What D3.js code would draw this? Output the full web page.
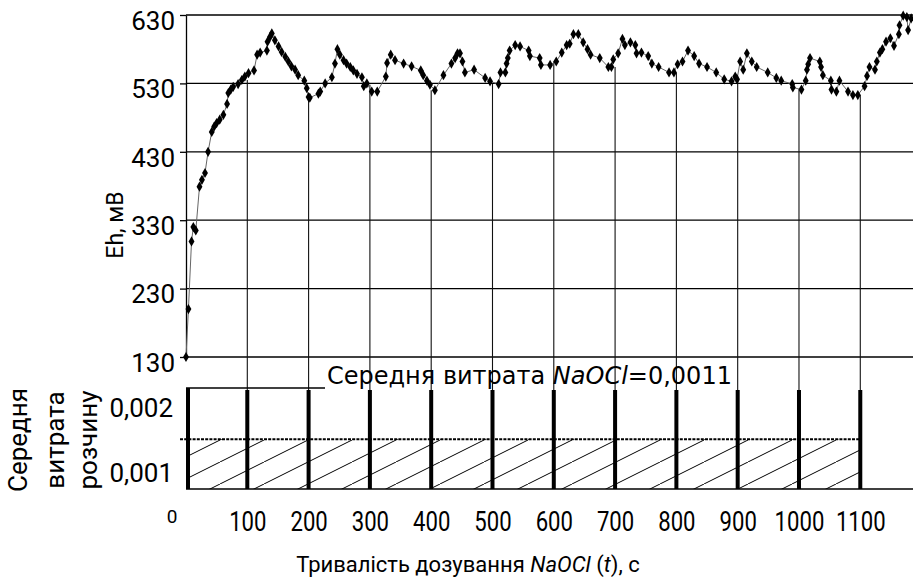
<!DOCTYPE html>
<html>
<head>
<meta charset="utf-8">
<script src="https://cdn.jsdelivr.net/npm/d3@7"></script>
<style>
  body { margin: 0; background: #fff; }
  svg { display: block; }
</style>
</head>
<body>
<svg id="chart"></svg>
<script>
// measured Eh curve (time, s / Eh, mV)
const times = [0, 4, 9, 12, 16, 22, 26, 31, 36, 42, 46, 50, 55, 61, 67, 69, 73, 77, 85, 91, 96, 102, 111,
  116, 121, 132, 133, 137, 140, 145, 151, 156, 162, 167, 172, 178, 183, 193, 197, 200, 202, 216, 219, 227,
  238, 243, 247, 251, 257, 262, 268, 273, 279, 287, 290, 295, 303, 312, 326, 328, 334, 341, 355, 368, 383,
  387, 393, 398, 406, 420, 433, 439, 443, 447, 451, 455, 470, 488, 496, 510, 513, 521, 523, 525, 528, 537,
  545, 559, 561, 577, 579, 594, 604, 613, 621, 626, 632, 640, 648, 655, 660, 675, 689, 694, 697, 705, 712,
  716, 725, 733, 735, 743, 754, 760, 771, 788, 796, 802, 810, 819, 829, 837, 850, 865, 878, 890, 896, 899,
  904, 909, 915, 923, 931, 949, 963, 971, 989, 990, 1004, 1011, 1013, 1015, 1018, 1034, 1036, 1039, 1052,
  1053, 1061, 1066, 1080, 1088, 1096, 1107, 1111, 1115, 1124, 1127, 1132, 1136, 1142, 1149, 1155, 1163,
  1164, 1170, 1176, 1178, 1183];
const eh = [130, 200, 299, 320, 315, 379, 389, 399, 430, 459, 467, 472, 477, 484, 500, 516, 521, 525, 529, 535, 540, 545, 549,
  572, 575, 578, 591, 598, 603, 593, 584, 576, 569, 562, 555, 550, 542, 534, 523, 510, 509, 515, 518, 530,
  539, 559, 580, 572, 564, 559, 554, 549, 544, 539, 526, 530, 518, 518, 540, 560, 572, 564, 559, 555, 549,
  542, 534, 528, 520, 542, 559, 567, 574, 574, 562, 546, 550, 538, 533, 529, 546, 546, 559, 567, 578, 586,
  584, 578, 570, 567, 557, 557, 562, 575, 586, 588, 602, 602, 590, 580, 572, 567, 554, 554, 565, 574, 595,
  586, 590, 586, 574, 575, 570, 559, 554, 546, 546, 558, 562, 578, 570, 559, 554, 546, 536, 533, 540, 536,
  562, 550, 574, 562, 554, 546, 538, 534, 529, 524, 521, 534, 550, 558, 567, 562, 554, 542, 534,
  521, 518, 534, 518, 513, 513, 526, 541, 554, 550, 562, 575, 580, 591, 596, 585, 602,
  615, 629, 627, 608, 625];

// dosing moments and the Eh level where each drop line starts
const dropTimes = [100, 200, 300, 400, 500, 600, 700, 800, 900, 1000, 1100];
const dropEh = [535, 510, 528, 520, 529, 562, 554, 546, 540, 521, 513];

const barTimes = [0, 100, 200, 300, 400, 500, 600, 700, 800, 900, 1000, 1100];
const ehTicks = [130, 230, 330, 430, 530, 630];
const timeTicks = [100, 200, 300, 400, 500, 600, 700, 800, 900, 1000, 1100];
const rateTicks = [0.001, 0.002];
const meanRate = 0.00152;   // height of the dashed level
const meanText = '=0,0011';

const width = 913;
const height = 582;
const left = 186;
const right = 913;
const topY = 15, topBottom = 357;
const botTop = 388, botBottom = 489;

const svg = d3.select('#chart').attr('width', width).attr('height', height);

const xScale = d3.scaleLinear().domain([0, 1186]).range([left, right]);
const yScale = d3.scaleLinear().domain([130, 630]).range([topBottom, topY]);
const rateScale = d3.scaleLinear().domain([0.00075, 0.00231]).range([botBottom, botTop]);

// hatch pattern
svg.append('defs')
  .append('pattern')
  .attr('id', 'hatch')
  .attr('patternUnits', 'userSpaceOnUse')
  .attr('width', 44)
  .attr('height', 22)
  .append('path')
  .attr('d', 'M0,22L44,0')
  .attr('stroke', '#000')
  .attr('stroke-width', 1);

// horizontal grid of the Eh panel
svg.append('g')
  .selectAll('line')
  .data(ehTicks)
  .enter()
  .append('line')
  .attr('x1', left)
  .attr('x2', right)
  .attr('y1', (d) => yScale(d))
  .attr('y2', (d) => yScale(d))
  .attr('stroke', '#000')
  .attr('stroke-width', 1.3);

// drop lines from curve to the dosing bars
svg.append('g')
  .selectAll('line')
  .data(dropTimes)
  .enter()
  .append('line')
  .attr('x1', (d) => xScale(d))
  .attr('x2', (d) => xScale(d))
  .attr('y1', (d, i) => yScale(dropEh[i]))
  .attr('y2', botTop + 2)
  .attr('stroke', '#111')
  .attr('stroke-width', 1.1);

// Eh axis
const yAxis = d3.axisLeft(yScale).tickValues(ehTicks).tickSize(6).tickSizeOuter(0).tickPadding(5);
const yG = svg.append('g')
  .attr('transform', 'translate(' + left + ',0)')
  .call(yAxis);
yG.select('.domain').attr('stroke', '#000').attr('stroke-width', 1.3);
yG.selectAll('.tick line').attr('stroke', '#000').attr('stroke-width', 1.3);
yG.selectAll('text')
  .attr('y', 6)
  .style('font-family', 'Roboto')
  .style('font-size', '26px')
  .attr('fill', '#000');

// curve
const line = d3.line()
  .x((d, i) => xScale(times[i]))
  .y((d) => yScale(d));
svg.append('path')
  .datum(eh)
  .attr('d', line)
  .attr('fill', 'none')
  .attr('stroke', '#666')
  .attr('stroke-width', 1);

const diamond = d3.symbol().type(d3.symbolDiamond).size(30);
svg.append('g')
  .selectAll('path')
  .data(eh)
  .enter()
  .append('path')
  .attr('d', diamond)
  .attr('transform', (d, i) => 'translate(' + xScale(times[i]) + ',' + yScale(d) + ')')
  .attr('fill', '#000');

// lower panel
svg.append('rect')
  .attr('x', xScale(0))
  .attr('y', rateScale(meanRate))
  .attr('width', xScale(1100) - xScale(0))
  .attr('height', botBottom - rateScale(meanRate))
  .attr('fill', 'url(#hatch)');

svg.append('line')
  .attr('x1', left - 6)
  .attr('x2', xScale(1100))
  .attr('y1', rateScale(meanRate))
  .attr('y2', rateScale(meanRate))
  .attr('stroke', '#000')
  .attr('stroke-width', 2)
  .attr('stroke-dasharray', '3,1.2');

svg.append('line')
  .attr('x1', left)
  .attr('x2', right)
  .attr('y1', botBottom)
  .attr('y2', botBottom)
  .attr('stroke', '#000')
  .attr('stroke-width', 1.5);

svg.append('line')
  .attr('x1', left)
  .attr('x2', 325)
  .attr('y1', botTop)
  .attr('y2', botTop)
  .attr('stroke', '#000')
  .attr('stroke-width', 1.3);

svg.append('g')
  .selectAll('rect')
  .data(barTimes)
  .enter()
  .append('rect')
  .attr('x', (d) => xScale(d) - (d === 0 ? 0 : 2))
  .attr('y', (d) => (d === 0 ? botTop : botTop + 2))
  .attr('width', 4)
  .attr('height', (d) => botBottom - (d === 0 ? botTop : botTop + 2))
  .attr('fill', '#000');

const rateAxis = d3.axisLeft(rateScale)
  .tickValues(rateTicks)
  .tickSize(0)
  .tickPadding(13)
  .tickFormat((d) => d3.format('.3f')(d).replace('.', ','));
const rG = svg.append('g')
  .attr('transform', 'translate(' + left + ',0)')
  .call(rateAxis);
rG.select('.domain').remove();
rG.selectAll('text')
  .style('font-family', 'Roboto')
  .style('font-size', '26px')
  .attr('fill', '#000');

const meanLabel = svg.append('text')
  .attr('x', 327)
  .attr('y', 384)
  .style('font-family', 'DejaVu Sans')
  .style('font-size', '24px')
  .attr('fill', '#000');
meanLabel.append('tspan').text('Середня витрата ');
meanLabel.append('tspan').style('font-style', 'italic').text('NaOCl');
meanLabel.append('tspan').text(meanText);

// time axis
const xAxis = d3.axisBottom(xScale)
  .tickValues(timeTicks)
  .tickSize(0)
  .tickPadding(0)
  .tickFormat((d) => String(d));
const xG = svg.append('g')
  .attr('transform', 'translate(0,512)')
  .call(xAxis);
xG.select('.domain').remove();
xG.selectAll('text')
  .attr('transform', 'scale(0.82,1)')
  .style('font-family', 'Roboto')
  .style('font-size', '27px')
  .attr('fill', '#000');

svg.append('text')
  .attr('x', 172)
  .attr('y', 523)
  .attr('text-anchor', 'middle')
  .style('font-family', 'Roboto')
  .style('font-size', '19px')
  .text('0');

const xTitle = svg.append('text')
  .attr('x', 468)
  .attr('y', 572)
  .attr('text-anchor', 'middle')
  .style('font-family', 'Roboto')
  .style('font-size', '22px');
xTitle.append('tspan').text('Тривалість дозування ');
xTitle.append('tspan').style('font-style', 'italic').text('NaOCl');
xTitle.append('tspan').text(' (');
xTitle.append('tspan').style('font-style', 'italic').text('t');
xTitle.append('tspan').text('), с');

svg.append('text')
  .attr('transform', 'translate(123,225) rotate(-90)')
  .attr('text-anchor', 'middle')
  .style('font-family', 'Roboto')
  .style('font-size', '23px')
  .text('Eh, мВ');

const sideLabels = ['Середня', 'витрата', 'розчину'];
const sideX = [27, 64, 97];
svg.append('g')
  .selectAll('text')
  .data(sideLabels)
  .enter()
  .append('text')
  .attr('transform', (d, i) => 'translate(' + sideX[i] + ',440) rotate(-90)')
  .attr('text-anchor', 'middle')
  .style('font-family', 'Roboto')
  .style('font-size', '26px')
  .text((d) => d);
</script>
</body>
</html>
